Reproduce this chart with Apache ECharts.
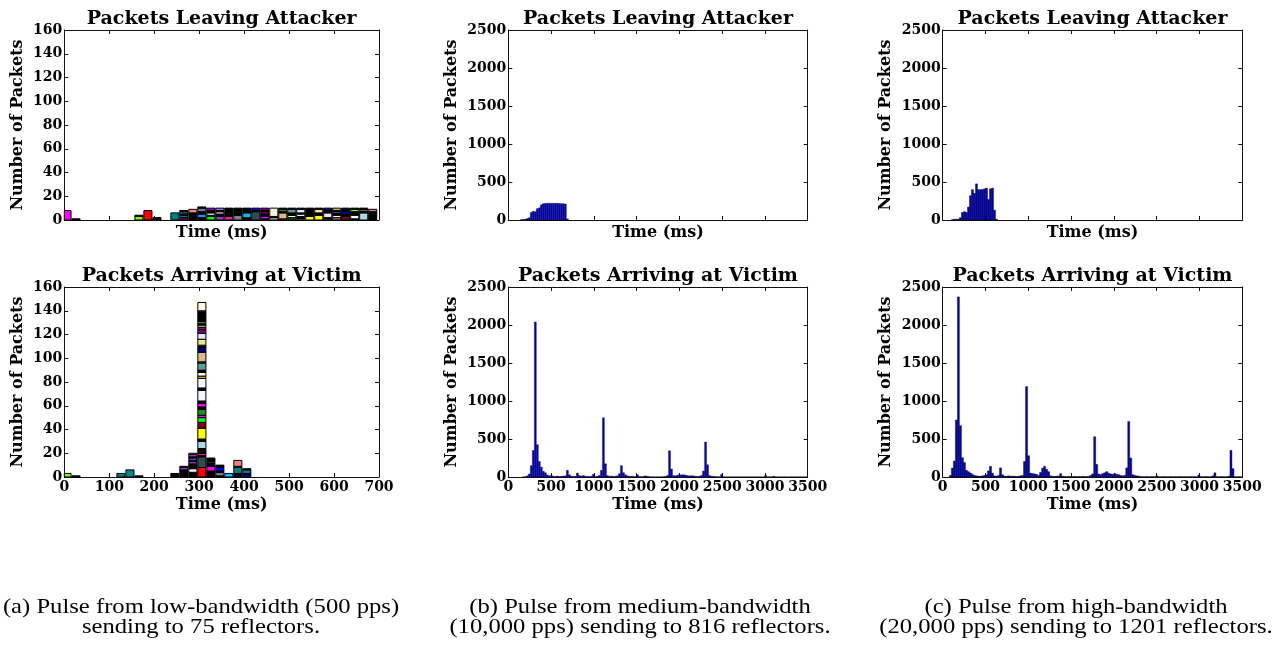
<!DOCTYPE html>
<html><head><meta charset="utf-8">
<script src="https://cdn.jsdelivr.net/npm/echarts@6/dist/echarts.min.js"></script>
<style>html,body{margin:0;padding:0;background:#fff}#c{width:1273px;height:646px}</style>
</head><body><div id="c"></div>
<script>
// ---------- DATA ----------
// Panel (a): 20 ms bins, first bin centre at 6 ms; stacked segments (bottom -> top), one colour per reflector
const A_BIN_W = 20;
const A_FIRST_CENTER = 6;
const A_TOP_COUNTS = [
 [8],[1],[],[],[],[],[],[],[3,1],[8],[1,1],[],[6],
 [2,2,1,2,1],[3,1,2,3],[2,3,2,3,1],[3,1,2,2,2],[3,2,2,1,2],[3,2,1,2,1,1],[4,2,1,3],[2,4,2,1,1],
 [7,1,2],[1,2,2,2,1,2],[2,1,7],[1,5,1,2,1],[2,2,2,3,1],[1,2,2,1,3,1],[3,7],[4,2,3,1],[1,1,4,2,2],
 [2,2,2,1,1,2],[3,2,2,3],[1,3,1,2,2,1],[6,1,2,1],[7,2]
];
const A_TOP_COLORS = [
 ['magenta'],['black'],[],[],[],[],[],[],['lawngreen','black'],['red'],['red','black'],[],['teal'],
 ['purple','teal','black','teal','black'],
 ['black','darkviolet','black','lightcoral'],
 ['black','dodgerblue','black','slategray','black'],
 ['lime','black','white','black','darkviolet'],
 ['darkorchid','black','lightgray','black','mediumpurple'],
 ['deeppink','black','green','black','white','black'],
 ['gray','black','darkgreen','black'],
 ['black','deepskyblue','black','sienna','black'],
 ['darkslategray','black','blue'],
 ['blue','magenta','black','purple','black','purple'],
 ['tan','black','beige'],
 ['brown','burlywood','black','forestgreen','black'],
 ['darkgreen','white','black','cadetblue','black'],
 ['sandybrown','black','white','black','lavender','black'],
 ['yellow','black'],
 ['yellow','black','khaki','black'],
 ['olive','black','lavender','black','navy'],
 ['gray','white','black','white','black','darkkhaki'],
 ['maroon','black','blue','black'],
 ['black','white','maroon','black','lawngreen','black'],
 ['lightblue','black','darkolivegreen','black'],
 ['black','palevioletred']
];
const A_BOT_COUNTS = [
 [3],[1],[],[],[],[],[3],[6],[1],[],[],[],[3],
 [3,1,2,2,1],
 [4,3,1,1,2,2,1,2,1,2,1],
 [8,9,1,2,4,6,2,9,5,4,2,5,2,3,2,9,2,8,2,3,2,6,1,8,4,1,1,5,5,3,2,2,1,2,8,1,7],
 [2,1,2,4,3,1,3],
 [1,3,1,3,2],
 [3],
 [1,2,5,1,5],
 [2,1,3,1]
];
const A_BOT_COLORS = [
 ['lawngreen'],['black'],[],[],[],[],['teal'],['darkcyan'],['black'],[],[],[],['black'],
 ['black','dodgerblue','black','darkorchid','black'],
 ['black','white','black','dodgerblue','black','darkorchid','black','slateblue','black','darkorchid','sandybrown'],
 ['red','darkslategray','black','deeppink','black','lightblue','black','yellow','maroon','lime','magenta','forestgreen','black','magenta','black','aliceblue','black','aliceblue','orange','white','black','cadetblue','olivedrab','burlywood','navy','black','white','khaki','lavender','purple','darkmagenta','darkkhaki','black','darkolivegreen','black','mediumvioletred','cornsilk'],
 ['black','crimson','black','magenta','black','white','black'],
 ['black','gray','black','blue','black'],
 ['deepskyblue'],
 ['navy','black','teal','black','lightcoral'],
 ['blue','black','teal','black']
];

// Panels (b), (c): 150 bins of ~23.41 ms
const BC_BIN_W = 23.41;
const B_BIN_START = 0;
const C_BIN_START = 8;
const B_TOP_FIRST_BIN = 6;
const B_TOP_COUNTS = [5,8,10,20,30,100,115,110,150,160,200,215,218,220,220,220,220,220,220,218,215,215,210,15];
const C_TOP_FIRST_BIN = 4;
const C_TOP_COUNTS = [5,10,10,10,30,100,110,100,170,320,400,350,475,400,400,400,410,420,270,410,420,130,10];
const B_BOT_COUNTS = [
 0,0,0,0,0,0,0,2,5,15,
 40,150,350,2040,425,205,130,75,57,26,
 15,20,10,8,12,8,10,12,15,88,
 30,12,8,10,53,20,12,20,10,8,
 6,10,35,8,10,20,88,780,175,20,
 10,12,8,10,15,44,150,57,30,15,
 8,10,8,5,30,6,5,8,15,10,
 5,3,3,2,3,2,3,5,8,20,
 346,105,20,15,25,30,28,30,25,20,
 15,18,15,10,8,10,20,79,460,162,
 20,10,10,5,5,3,35,3,3,2,
 3,2,3,2,2,3,2,3,2,3,
 2,3,2,3,2,3,2,3,20,3,
 3,3,10,3,2,3,2,2,3,2,
 2,3,2,2,3,2,2,3,2,2
];
const C_BOT_COUNTS = [
 0,0,0,20,118,210,750,2370,675,254,
 190,88,70,53,35,20,15,12,10,15,
 20,30,80,140,50,15,10,20,120,30,
 12,10,15,10,12,10,8,10,15,20,
 205,1190,280,50,45,40,35,20,60,115,
 140,100,70,15,10,8,10,12,45,10,
 8,5,8,6,5,8,5,6,5,8,
 6,5,8,20,40,530,165,40,30,45,
 55,70,50,40,35,45,35,30,20,15,
 20,120,730,250,30,20,15,10,5,4,
 4,5,3,4,5,3,15,4,3,5,
 4,3,4,5,3,4,3,4,5,3,
 4,3,4,5,3,4,3,25,4,3,
 4,5,3,4,15,55,4,3,5,4,
 3,4,10,350,110,4,3,4,3,3
];

const A_X_TICKS = {min:0, max:700, interval:100};
const BC_X_TICKS = {min:0, max:3500, interval:500};
const A_Y_TICKS = {min:0, max:160, interval:20};
const BC_Y_TICKS = {min:0, max:2500, interval:500};

const TITLES = ['Packets Leaving Attacker','Packets Arriving at Victim'];
const CAPTIONS = [
 ['(a) Pulse from low-bandwidth (500 pps)','sending to 75 reflectors.'],
 ['(b) Pulse from medium-bandwidth','(10,000 pps) sending to 816 reflectors.'],
 ['(c) Pulse from high-bandwidth','(20,000 pps) sending to 1201 reflectors.']
];

// ---------- BUILD ----------
function stacked(counts, colors, rw) {
  const items = [], cols = [];
  counts.forEach((segs, k) => {
    const c = A_FIRST_CENTER + k * A_BIN_W;
    let y = 0;
    segs.forEach((n, j) => {
      items.push([c - A_BIN_W * rw / 2, c + A_BIN_W * rw / 2, y, y + n]);
      cols.push(colors[k][j]);
      y += n;
    });
  });
  return {items, cols};
}
function hist(start, w, firstBin, counts) {
  const items = [];
  counts.forEach((n, i) => {
    if (n <= 0) return;
    const k = firstBin + i;
    items.push([start + k * w, start + (k + 1) * w, 0, n]);
  });
  return items;
}
function renderer(colorOf, lw) {
  return function (params, api) {
    const p0 = api.coord([api.value(0), api.value(3)]);
    const p1 = api.coord([api.value(1), api.value(2)]);
    const cs = params.coordSys;
    const shape = echarts.graphic.clipRectByRect(
      {x: p0[0], y: p0[1], width: p1[0] - p0[0], height: p1[1] - p0[1]},
      {x: cs.x, y: cs.y, width: cs.width, height: cs.height});
    if (!shape) return;
    return {type: 'rect', shape: shape,
      style: {fill: colorOf(params.dataIndex), stroke: '#000', lineWidth: lw}};
  };
}

const FONT = 'DejaVu Serif';
const GRIDS = [
  {left: 64.3, top: 30, width: 314.7, height: 190},
  {left: 64.3, top: 287, width: 314.7, height: 190},
  {left: 508.3, top: 30, width: 299.4, height: 190},
  {left: 508.3, top: 287, width: 299.4, height: 190},
  {left: 942.7, top: 30, width: 299.6, height: 190},
  {left: 942.7, top: 287, width: 299.6, height: 190}
];
const YNAME_GAP = [38, 38, 48, 48, 49, 49];

const xAxes = [], yAxes = [];
const lineStyle = {color: '#111', width: 1};
const tick = {show: true, inside: true, length: 4, lineStyle: {color: '#111', width: 1}};
const fmt = v => String(v);
GRIDS.forEach((g, i) => {
  const isA = i < 2, bottomRow = i % 2 === 1;
  const xt = isA ? A_X_TICKS : BC_X_TICKS, yt = isA ? A_Y_TICKS : BC_Y_TICKS;
  xAxes.push({gridIndex: i, type: 'value', position: 'bottom', min: xt.min, max: xt.max, interval: xt.interval,
    axisLine: {show: true, onZero: false, lineStyle}, axisTick: tick, splitLine: {show: false},
    axisLabel: {show: bottomRow, formatter: fmt, showMinLabel: true, showMaxLabel: true, hideOverlap: false,
      color: '#000', fontFamily: FONT, fontWeight: 'bold', fontSize: 14, margin: 3},
    name: 'Time (ms)', nameLocation: 'middle', nameGap: bottomRow ? 20 : 5,
    nameTextStyle: {color: '#000', fontFamily: FONT, fontWeight: 'bold', fontSize: 16, verticalAlign: 'top'}});
  xAxes.push({gridIndex: i, type: 'value', position: 'top', min: xt.min, max: xt.max, interval: xt.interval,
    axisLine: {show: true, onZero: false, lineStyle}, axisTick: tick, splitLine: {show: false},
    axisLabel: {show: false}});
  yAxes.push({gridIndex: i, type: 'value', position: 'left', min: yt.min, max: yt.max, interval: yt.interval,
    axisLine: {show: true, onZero: false, lineStyle}, axisTick: tick, splitLine: {show: false},
    axisLabel: {formatter: fmt, showMinLabel: true, showMaxLabel: true,
      color: '#000', fontFamily: FONT, fontWeight: 'bold', fontSize: 14, margin: 2},
    name: 'Number of Packets', nameLocation: 'middle', nameRotate: 90, nameGap: YNAME_GAP[i],
    nameTextStyle: {color: '#000', fontFamily: FONT, fontWeight: 'bold', fontSize: 16}});
  yAxes.push({gridIndex: i, type: 'value', position: 'right', min: yt.min, max: yt.max, interval: yt.interval,
    axisLine: {show: true, onZero: false, lineStyle}, axisTick: tick, splitLine: {show: false},
    axisLabel: {show: false}});
});

const aTop = stacked(A_TOP_COUNTS, A_TOP_COLORS, 0.9);
const aBot = stacked(A_BOT_COUNTS, A_BOT_COLORS, 0.9);
const BAR_BLUE = '#0000c4';
const series = [
  {data: aTop.items, colorOf: i => aTop.cols[i], lw: 1},
  {data: aBot.items, colorOf: i => aBot.cols[i], lw: 1},
  {data: hist(B_BIN_START, BC_BIN_W, B_TOP_FIRST_BIN, B_TOP_COUNTS), colorOf: () => BAR_BLUE, lw: 0.3},
  {data: hist(B_BIN_START, BC_BIN_W, 0, B_BOT_COUNTS), colorOf: () => BAR_BLUE, lw: 0.3},
  {data: hist(C_BIN_START, BC_BIN_W, C_TOP_FIRST_BIN, C_TOP_COUNTS), colorOf: () => BAR_BLUE, lw: 0.4},
  {data: hist(C_BIN_START, BC_BIN_W, 0, C_BOT_COUNTS), colorOf: () => BAR_BLUE, lw: 0.4}
].map((s, i) => ({
  type: 'custom', xAxisIndex: 2 * i, yAxisIndex: 2 * i, data: s.data,
  encode: {x: [0, 1], y: [2, 3]}, renderItem: renderer(s.colorOf, s.lw), silent: true, animation: false
}));

const graphics = [];
GRIDS.forEach((g, i) => {
  graphics.push({type: 'text', x: g.left + g.width / 2, y: i % 2 ? 276 : 19,
    style: {text: TITLES[i % 2], font: 'bold 19px "DejaVu Serif"', fill: '#000',
      align: 'center', verticalAlign: 'middle', textAlign: 'center', textVerticalAlign: 'middle'}});
});
const CAP_X = [201, 640, 1076];
CAPTIONS.forEach((c, i) => {
  c.forEach((line, j) => {
    graphics.push({type: 'text', x: CAP_X[i], y: 607 + j * 20, scaleX: 1.12,
      style: {text: line, font: '22px "Liberation Serif"', fill: '#000',
        align: 'center', verticalAlign: 'middle', textAlign: 'center', textVerticalAlign: 'middle'}});
  });
});

const chart = echarts.init(document.getElementById('c'), null, {renderer: 'canvas'});
chart.setOption({
  animation: false,
  backgroundColor: '#fff',
  grid: GRIDS.map(g => Object.assign({show: false, containLabel: false}, g)),
  xAxis: xAxes, yAxis: yAxes, series: series, graphic: graphics
});
</script></body></html>
